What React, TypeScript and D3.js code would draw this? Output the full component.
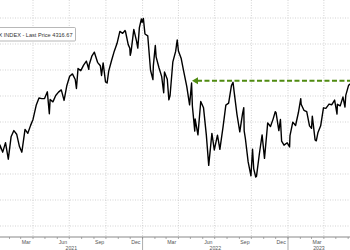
import React from "react";
import * as d3 from "d3";

const dates: string[] = [
  "2021-01-04","2021-01-08","2021-01-15","2021-01-22","2021-01-29","2021-02-05","2021-02-12","2021-02-19","2021-02-26","2021-03-04","2021-03-12","2021-03-19","2021-03-26","2021-04-01","2021-04-09","2021-04-16","2021-04-23","2021-04-30","2021-05-07","2021-05-12","2021-05-14","2021-05-21","2021-05-28","2021-06-04","2021-06-11","2021-06-18","2021-06-25","2021-07-02","2021-07-09","2021-07-16","2021-07-19","2021-07-23","2021-07-30","2021-08-06","2021-08-13","2021-08-19","2021-08-20","2021-08-27","2021-09-02","2021-09-10","2021-09-17","2021-09-20","2021-09-24","2021-09-30","2021-10-04","2021-10-08","2021-10-15","2021-10-22","2021-10-29","2021-11-05","2021-11-12","2021-11-18","2021-11-19","2021-11-26","2021-11-30","2021-12-01","2021-12-03","2021-12-10","2021-12-17","2021-12-20","2021-12-24","2021-12-29","2021-12-31",
  "2022-01-03","2022-01-07","2022-01-14","2022-01-21","2022-01-27","2022-01-28","2022-02-02","2022-02-04","2022-02-11","2022-02-18","2022-02-23","2022-02-25","2022-03-04","2022-03-08","2022-03-11","2022-03-18","2022-03-25","2022-03-29","2022-04-01","2022-04-08","2022-04-14","2022-04-22","2022-04-29","2022-05-04","2022-05-06","2022-05-12","2022-05-13","2022-05-20","2022-05-27","2022-06-03","2022-06-10","2022-06-16","2022-06-24","2022-06-30","2022-07-08","2022-07-14","2022-07-22","2022-07-29","2022-08-05","2022-08-12","2022-08-16","2022-08-19","2022-08-26","2022-09-02","2022-09-09","2022-09-12","2022-09-13","2022-09-16","2022-09-23","2022-09-30","2022-10-04","2022-10-07","2022-10-12","2022-10-14","2022-10-21","2022-10-28","2022-11-03","2022-11-10","2022-11-11","2022-11-18","2022-11-25","2022-11-30","2022-12-02","2022-12-09","2022-12-13","2022-12-16","2022-12-22","2022-12-30",
  "2023-01-05","2023-01-06","2023-01-13","2023-01-20","2023-01-27","2023-02-02","2023-02-03","2023-02-10","2023-02-17","2023-02-24","2023-03-01","2023-03-03","2023-03-10","2023-03-13","2023-03-17","2023-03-24","2023-03-31","2023-04-06","2023-04-14","2023-04-21","2023-04-28","2023-05-04","2023-05-05","2023-05-12","2023-05-19","2023-05-24","2023-05-26","2023-06-02","2023-06-09","2023-06-12"
];
const prices: number[] = [
  3700,3824,3768,3841,3714,3886,3934,3906,3811,3768,3943,3913,3974,4020,4128,4185,4180,4181,4232,4063,4173,4155,4204,4230,4247,4166,4281,4352,4370,4327,4258,4411,4395,4437,4468,4405,4441,4509,4537,4459,4433,4358,4455,4308,4300,4391,4471,4545,4605,4697,4682,4704,4698,4595,4567,4513,4538,4712,4620,4568,4726,4793,4766,
  4797,4677,4663,4398,4326,4432,4589,4501,4419,4349,4225,4385,4329,4170,4204,4463,4543,4631,4546,4488,4393,4272,4132,4300,4123,3930,4023,3901,4158,4109,3901,3666,3912,3785,3899,3790,3962,4130,4145,4280,4305,4228,4057,3924,4067,4110,3932,3873,3693,3586,3791,3640,3577,3583,3752,3901,3720,3956,3993,3965,4026,4080,4072,3934,4019,3852,3822,3840,
  3808,3895,3999,3973,4071,4180,4136,4090,4079,3970,3951,4045,3862,3855,3917,3971,4109,4105,4138,4133,4169,4061,4136,4124,4192,4115,4205,4282,4299,4317
];
const yTicks: number[] = [3200, 3400, 3600, 3800, 4000, 4200, 4400, 4600, 4800];
const years: string[] = ["2021", "2022", "2023"];
const lastPrice = 4316.67;
const arrowStart = "2022-05-05";
const legendText = "SPX INDEX - Last Price 4316.67";

export default function App() {
  const W = 350, H = 250;
  const parse = d3.timeParse("%Y-%m-%d");
  const x = d3.scaleTime()
    .domain([new Date(2021, 3, 1), new Date(2023, 0, 1)])
    .range([33, 288]);
  const y = d3.scaleLinear().domain([3200, 4800]).range([226, 18]);
  const axisY = 237;
  const data = dates.map((d, i) => ({ date: parse(d) as Date, v: prices[i] }));
  const line = d3.line<{ date: Date; v: number }>()
    .x(d => x(d.date))
    .y(d => y(d.v));

  const t0 = x.invert(-10), t1 = x.invert(W + 10);
  const quarters = d3.timeMonth.range(t0, t1).filter(d => d.getMonth() % 3 === 0);
  const months = d3.timeMonth.range(t0, t1);
  const labelMonths = months
    .filter(d => [2, 5, 8, 11].includes(d.getMonth()))
    .filter(d => {
      const cx = x(new Date(d.getFullYear(), d.getMonth(), 15));
      return cx > 6 && cx < W - 6;
    });
  const yearStarts = d3.timeYear.range(t0, t1).filter(d => x(d) > 0);
  const fmt = d3.timeFormat("%b");

  const yearCenters = years.map(yr => {
    const a = Math.max(x(new Date(+yr, 0, 1)), 0);
    const b = Math.min(x(new Date(+yr + 1, 0, 1)), W);
    return { yr, cx: (a + b) / 2 };
  });

  const ly = y(lastPrice);
  const ax = x(parse(arrowStart) as Date);

  return (
    <svg width={W} height={H} style={{ position: "absolute", left: 0, top: 0, background: "#fff" }}
      fontFamily="Arial, 'Liberation Sans', sans-serif">
      {yTicks.map(t => (
        <line key={"h" + t} x1={0} x2={W} y1={y(t)} y2={y(t)} stroke="#c8c8c8" strokeWidth={0.8} strokeDasharray="1,1.5" />
      ))}
      {quarters.map(q => (
        <line key={"v" + +q} x1={x(q)} x2={x(q)} y1={0} y2={axisY} stroke="#c8c8c8" strokeWidth={0.8} strokeDasharray="1,1.5" />
      ))}
      <line x1={0} x2={W} y1={axisY} y2={axisY} stroke="#888" strokeWidth={1} />
      {months.map(m => (
        <line key={"t" + +m} x1={x(m)} x2={x(m)} y1={axisY} y2={axisY + 2} stroke="#888" strokeWidth={0.7} />
      ))}
      {yearStarts.map(ys => (
        <line key={"ys" + +ys} x1={x(ys)} x2={x(ys)} y1={axisY} y2={H} stroke="#888" strokeWidth={0.7} />
      ))}
      {labelMonths.map(m => {
        const mid = new Date(m.getFullYear(), m.getMonth(), 15);
        return (
          <text key={"ml" + +m} x={x(mid)} y={axisY + 7} fontSize={5.2} fill="#555" textAnchor="middle">{fmt(m)}</text>
        );
      })}
      {yearCenters.map(c => (
        <text key={c.yr} x={c.cx} y={axisY + 12.5} fontSize={5.2} fill="#555" textAnchor="middle">{c.yr}</text>
      ))}
      <path d={line(data) || ""} fill="none" stroke="#000" strokeWidth={1.4} strokeLinejoin="round" />
      <line x1={ax + 5} x2={W} y1={ly} y2={ly} stroke="#4f8a10" strokeWidth={2} strokeDasharray="5,2.5" />
      <path d={`M${ax},${ly} L${ax + 6},${ly - 3.5} L${ax + 6},${ly + 3.5} Z`} fill="#4f8a10" />
      <rect x={-50} y={27.5} width={125.5} height={13.5} fill="#fff" stroke="#999" strokeWidth={0.7} rx={1} />
      <text x={72.5} y={36.5} fontSize={5.6} fill="#333" textAnchor="end">{legendText}</text>
    </svg>
  );
}
